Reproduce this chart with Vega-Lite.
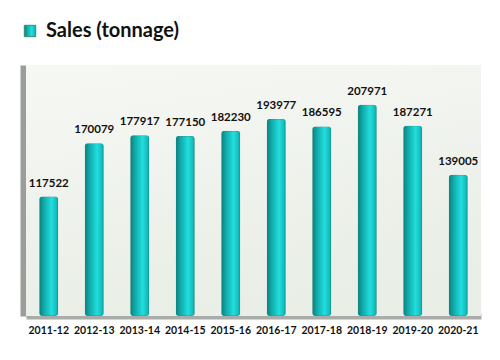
{
  "$schema": "https://vega.github.io/schema/vega-lite/v6.json",
  "width": 455,
  "height": 251,
  "autosize": "none",
  "padding": {"left": 26, "top": 65, "right": 19, "bottom": 44},
  "background": "white",
  "config": {"view": {"stroke": null}, "font": "Lato"},
  "data": {"values": [
    {"year": "2011-12", "sales": 117522, "series": "Sales (tonnage)"},
    {"year": "2012-13", "sales": 170079, "series": "Sales (tonnage)"},
    {"year": "2013-14", "sales": 177917, "series": "Sales (tonnage)"},
    {"year": "2014-15", "sales": 177150, "series": "Sales (tonnage)"},
    {"year": "2015-16", "sales": 182230, "series": "Sales (tonnage)"},
    {"year": "2016-17", "sales": 193977, "series": "Sales (tonnage)"},
    {"year": "2017-18", "sales": 186595, "series": "Sales (tonnage)"},
    {"year": "2018-19", "sales": 207971, "series": "Sales (tonnage)"},
    {"year": "2019-20", "sales": 187271, "series": "Sales (tonnage)"},
    {"year": "2020-21", "sales": 139005, "series": "Sales (tonnage)"}
  ]},
  "layer": [
    {
      "data": {"values": [{}]},
      "mark": {
        "type": "rect",
        "fill": {"gradient": "linear", "x1": 0, "y1": 0, "x2": 0.3, "y2": 1,
          "stops": [{"offset": 0, "color": "#f6f8f4"}, {"offset": 1, "color": "#e9eee6"}]}
      },
      "encoding": {}
    },
    {
      "mark": {
        "type": "bar",
        "size": 19,
        "cornerRadius": 3,
        "strokeWidth": 0.8,
        "fill": {"gradient": "linear", "x1": 0, "y1": 0, "x2": 1, "y2": 0,
          "stops": [
            {"offset": 0, "color": "#07807f"},
            {"offset": 0.25, "color": "#10aaa9"},
            {"offset": 0.65, "color": "#22dede"},
            {"offset": 0.9, "color": "#14bcbc"},
            {"offset": 1, "color": "#0a9696"}
          ]}
      },
      "encoding": {
        "x": {"field": "year", "type": "nominal", "sort": null,
          "scale": {"paddingInner": 0, "paddingOuter": 0},
          "axis": {"title": null, "labelAngle": 0, "ticks": false, "domainColor": "#a9aca8", "domainWidth": 6,
            "labelFontSize": 10.5, "labelFontWeight": "bold", "labelColor": "#111111", "labelPadding": 9, "labelFont": "Lato"}},
        "y": {"field": "sales", "type": "quantitative",
          "scale": {"domain": [0, 247000], "nice": false},
          "axis": {"title": null, "labels": false, "ticks": false, "grid": false, "domainColor": "#9a9d99", "domainWidth": 10, "offset": 1}},
        "stroke": {"field": "series", "type": "nominal",
          "scale": {"range": ["#3d8a70"]},
          "legend": {"title": null, "orient": "none", "legendX": -6, "legendY": -44,
            "symbolType": "square", "symbolSize": 130, "symbolFillColor": "#1ec8c8", "symbolStrokeWidth": 1,
            "labelFontSize": 20, "labelFontWeight": "bold", "labelColor": "#111111", "labelFont": "Lato", "labelOffset": 6}}
      }
    },
    {
      "mark": {"type": "text", "dy": -13, "fontSize": 11.5, "fontWeight": "bold", "color": "#111111", "font": "Lato"},
      "encoding": {
        "x": {"field": "year", "type": "nominal", "sort": null},
        "y": {"field": "sales", "type": "quantitative"},
        "text": {"field": "sales", "type": "quantitative", "format": "d"}
      }
    }
  ]
}
